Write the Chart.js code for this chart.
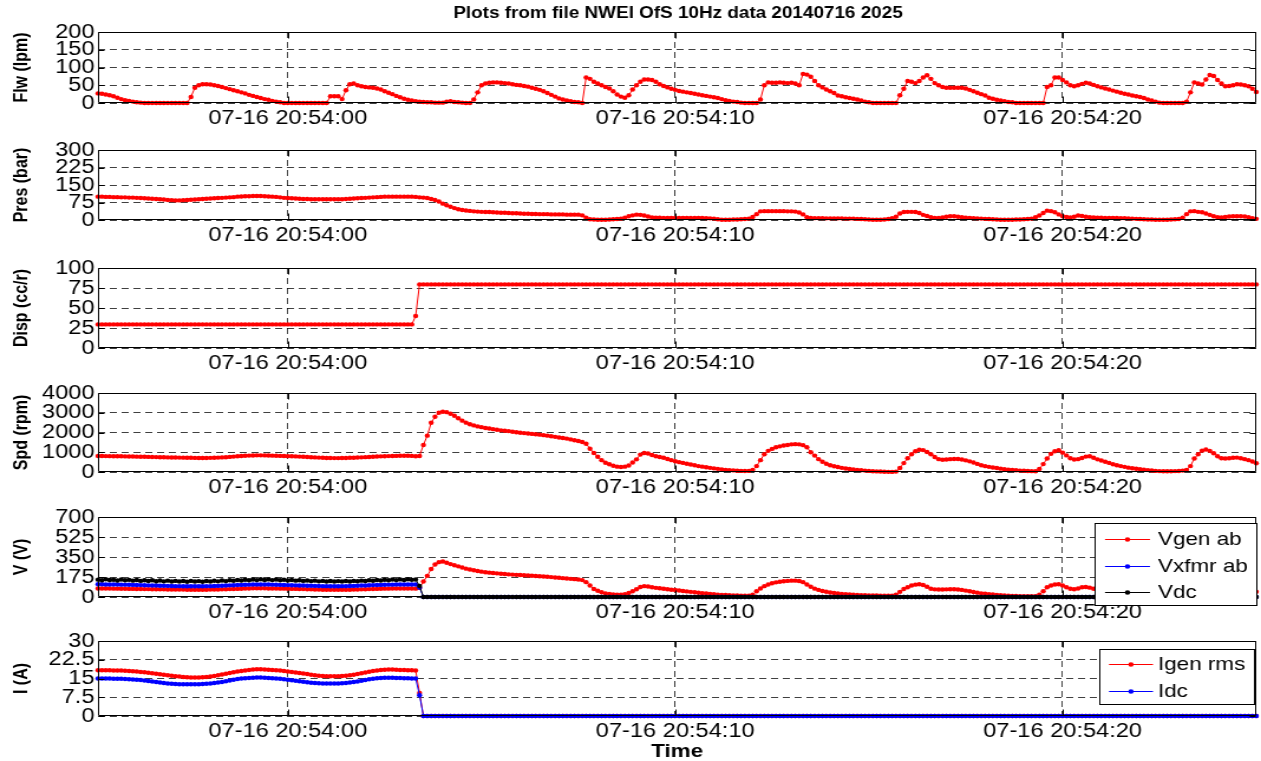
<!DOCTYPE html>
<html>
<head>
<meta charset="utf-8">
<title>Plots from file NWEI OfS 10Hz data 20140716 2025</title>
<script src="https://cdn.jsdelivr.net/npm/chart.js@4.4.1/dist/chart.umd.min.js"></script>
<style>
  html, body { margin: 0; padding: 0; background: #fff; }
  #fig { position: relative; width: 1261px; height: 761px; overflow: hidden; background: #fff; }
  #fig canvas { position: absolute; left: 0; transform-origin: 0 0; }
</style>
</head>
<body>
<div id="fig"></div>
<script>
// ---- Sampling: 10 Hz log, seconds relative to 07-16 20:54:00 ----
const T_START = -4.9;
const T_END = 25.0;
const SAMPLE_PERIOD = 0.1;

const TICK_SECONDS = [0, 10, 20];
const TICK_LABELS = ['07-16 20:54:00', '07-16 20:54:10', '07-16 20:54:20'];

const FIG_TITLE = 'Plots from file NWEI OfS 10Hz data 20140716 2025';
const X_TITLE = 'Time';

// ---- Logged channels (300 samples each) ----
const FLW = [
  27,26,24,22,19,15,11,8,6,4,
  2,1,0,0,0,0,0,0,0,0,
  0,0,0,0,17,43,50,53,53,52,
  50,48,45,42,39,36,33,30,27,23,
  20,17,14,11,9,6,4,2,0,0,
  0,0,0,0,0,0,0,0,0,0,
  19,19,19,11,36,53,55,50,47,45,
  44,43,41,38,33,29,25,20,16,12,
  9,7,5,4,3,2,2,1,1,1,
  4,5,3,2,1,0,0,10,30,50,
  55,57,58,58,57,56,55,53,51,50,
  48,46,43,40,37,33,28,23,18,13,
  10,7,5,3,2,0,72,68,60,55,
  50,45,41,33,24,18,15,22,38,50,
  60,66,66,65,60,53,48,44,40,37,
  34,32,30,28,26,24,22,20,18,16,
  14,11,8,6,4,3,1,0,0,0,
  0,10,50,58,57,57,58,57,56,57,
  55,50,82,80,74,62,50,44,38,33,
  28,21,19,16,14,12,10,7,4,2,
  0,0,0,0,0,0,0,22,40,62,
  60,56,62,72,78,68,56,50,45,43,
  43,43,43,43,41,37,33,29,25,21,
  15,12,9,7,5,3,2,0,0,0,
  0,0,0,0,0,45,50,72,72,65,
  58,50,47,50,54,57,55,51,47,44,
  41,38,35,32,29,26,24,21,19,17,
  14,10,7,4,1,0,0,0,0,0,
  0,4,30,58,55,52,66,79,76,65,
  55,47,48,50,53,52,50,47,40,31
];

const PRES = [
  100,100,99,99,98,98,97,97,96,96,
  95,94,93,92,91,90,89,88,86,85,
  84,84,85,86,87,88,89,90,91,92,
  93,94,95,96,97,98,100,101,102,102,
  103,103,103,102,101,100,99,97,95,94,
  93,92,91,90,90,89,89,89,89,89,
  89,89,89,89,90,91,92,93,94,95,
  96,97,98,99,100,100,100,100,100,100,
  100,100,99,97,96,94,90,86,79,70,
  63,57,51,46,43,41,39,37,36,35,
  34,34,33,32,31,31,30,29,29,28,
  27,27,26,26,25,25,25,24,24,24,
  24,23,23,23,23,20,10,3,2,1,
  1,1,2,3,4,6,10,16,20,23,
  22,19,15,11,10,10,9,9,9,9,
  9,9,9,9,9,9,9,8,7,6,
  3,1,1,1,2,2,3,4,6,13,
  25,37,38,38,38,38,38,38,37,37,
  36,32,24,12,9,8,8,8,7,7,
  7,7,7,6,6,6,5,4,3,2,
  1,1,1,2,4,8,14,28,34,35,
  35,34,30,22,17,12,9,9,11,14,
  16,16,14,12,10,9,8,7,6,5,
  4,3,2,1,1,1,1,2,2,3,
  4,6,12,19,30,40,38,33,24,16,
  13,11,14,19,17,14,12,11,10,10,
  9,9,9,9,8,8,7,6,5,4,
  3,2,2,1,1,1,1,2,3,4,
  10,25,37,38,35,33,28,22,16,12,
  11,13,15,16,16,16,15,12,8,5
];

const DISP = [
  29.5,29.5,29.5,29.5,29.5,29.5,29.5,29.5,29.5,29.5,
  29.5,29.5,29.5,29.5,29.5,29.5,29.5,29.5,29.5,29.5,
  29.5,29.5,29.5,29.5,29.5,29.5,29.5,29.5,29.5,29.5,
  29.5,29.5,29.5,29.5,29.5,29.5,29.5,29.5,29.5,29.5,
  29.5,29.5,29.5,29.5,29.5,29.5,29.5,29.5,29.5,29.5,
  29.5,29.5,29.5,29.5,29.5,29.5,29.5,29.5,29.5,29.5,
  29.5,29.5,29.5,29.5,29.5,29.5,29.5,29.5,29.5,29.5,
  29.5,29.5,29.5,29.5,29.5,29.5,29.5,29.5,29.5,29.5,
  29.5,29.5,40,79.5,79.5,79.5,79.5,79.5,79.5,79.5,
  79.5,79.5,79.5,79.5,79.5,79.5,79.5,79.5,79.5,79.5,
  79.5,79.5,79.5,79.5,79.5,79.5,79.5,79.5,79.5,79.5,
  79.5,79.5,79.5,79.5,79.5,79.5,79.5,79.5,79.5,79.5,
  79.5,79.5,79.5,79.5,79.5,79.5,79.5,79.5,79.5,79.5,
  79.5,79.5,79.5,79.5,79.5,79.5,79.5,79.5,79.5,79.5,
  79.5,79.5,79.5,79.5,79.5,79.5,79.5,79.5,79.5,79.5,
  79.5,79.5,79.5,79.5,79.5,79.5,79.5,79.5,79.5,79.5,
  79.5,79.5,79.5,79.5,79.5,79.5,79.5,79.5,79.5,79.5,
  79.5,79.5,79.5,79.5,79.5,79.5,79.5,79.5,79.5,79.5,
  79.5,79.5,79.5,79.5,79.5,79.5,79.5,79.5,79.5,79.5,
  79.5,79.5,79.5,79.5,79.5,79.5,79.5,79.5,79.5,79.5,
  79.5,79.5,79.5,79.5,79.5,79.5,79.5,79.5,79.5,79.5,
  79.5,79.5,79.5,79.5,79.5,79.5,79.5,79.5,79.5,79.5,
  79.5,79.5,79.5,79.5,79.5,79.5,79.5,79.5,79.5,79.5,
  79.5,79.5,79.5,79.5,79.5,79.5,79.5,79.5,79.5,79.5,
  79.5,79.5,79.5,79.5,79.5,79.5,79.5,79.5,79.5,79.5,
  79.5,79.5,79.5,79.5,79.5,79.5,79.5,79.5,79.5,79.5,
  79.5,79.5,79.5,79.5,79.5,79.5,79.5,79.5,79.5,79.5,
  79.5,79.5,79.5,79.5,79.5,79.5,79.5,79.5,79.5,79.5,
  79.5,79.5,79.5,79.5,79.5,79.5,79.5,79.5,79.5,79.5,
  79.5,79.5,79.5,79.5,79.5,79.5,79.5,79.5,79.5,79.5
];

const SPD = [
  810,808,806,803,800,797,794,790,786,782,
  778,774,770,765,760,755,750,745,740,737,
  733,730,726,722,718,715,712,710,712,716,
  722,730,740,750,765,780,795,808,820,830,
  838,842,843,840,835,828,820,814,808,803,
  797,790,780,770,760,750,740,730,720,712,
  706,703,704,707,712,718,724,732,742,752,
  762,772,782,792,800,806,812,816,820,823,
  824,815,795,810,1370,1840,2490,2800,3000,3050,
  3030,2950,2850,2720,2600,2500,2420,2360,2310,2270,
  2230,2200,2170,2140,2110,2090,2070,2040,2010,1990,
  1970,1950,1930,1910,1890,1865,1840,1810,1780,1750,
  1720,1690,1650,1610,1570,1520,1430,1180,960,770,
  600,470,390,320,270,250,270,330,480,640,
  880,960,940,860,800,760,720,660,600,545,
  500,460,420,380,340,300,270,240,210,185,
  160,130,110,95,80,65,55,50,55,110,
  300,600,900,1070,1170,1250,1300,1340,1370,1400,
  1410,1400,1360,1250,1000,830,650,520,420,340,
  290,250,210,180,150,125,100,85,70,55,
  40,30,22,15,8,5,20,200,450,700,
  900,1050,1130,1110,1010,900,760,650,620,630,
  650,662,660,630,590,540,480,410,340,295,
  260,230,200,170,140,120,100,85,70,60,
  50,42,35,150,400,680,920,1050,1100,980,
  840,700,630,650,710,780,800,720,640,580,
  520,460,390,340,300,260,220,190,165,140,
  115,95,75,55,45,40,40,40,45,50,
  70,110,300,680,900,1080,1136,1070,950,800,
  700,680,700,720,730,700,650,600,530,440
];

const VGEN = [
  75,75,74,74,73,73,72,72,71,71,
  70,70,69,69,68,68,67,67,66,66,
  65,65,65,64,64,64,64,64,64,65,
  65,66,67,68,69,70,71,72,74,75,
  76,76,76,76,75,75,74,73,73,72,
  71,71,70,69,68,67,66,65,64,64,
  63,63,63,63,64,64,65,66,67,68,
  69,70,71,72,73,73,74,74,75,75,
  75,74,73,80,135,185,245,285,305,310,
  300,288,278,268,258,248,240,234,228,222,
  217,213,210,207,204,201,198,196,194,192,
  190,188,186,184,182,180,177,174,171,168,
  165,162,159,156,153,148,130,100,70,55,
  42,32,27,23,21,21,25,35,50,68,
  88,95,92,85,80,76,72,68,64,61,
  57,53,49,45,41,37,33,30,27,24,
  21,19,17,15,14,13,12,12,12,20,
  50,75,95,110,120,128,134,138,141,143,
  143,140,130,110,90,73,62,53,46,40,
  35,30,27,24,22,20,18,16,15,14,
  13,13,12,12,12,12,20,45,70,85,
  100,108,112,105,90,72,67,66,66,67,
  68,68,66,62,56,50,44,38,32,28,
  25,22,19,16,14,12,10,9,8,7,
  6,6,6,20,50,85,100,110,112,100,
  85,72,68,75,85,88,82,72,65,60,
  55,50,45,40,36,32,28,24,20,17,
  14,12,10,8,7,6,6,6,6,7,
  10,15,40,75,95,110,115,110,98,85,
  75,72,74,76,75,72,66,60,53,46
];

const VXFMR = [
  112,111,110,110,109,109,108,108,107,106,
  105,104,103,102,101,100,99,98,97,96,
  95,95,94,94,94,94,94,94,95,95,
  96,97,99,100,102,103,105,106,107,108,
  109,110,110,109,109,108,107,106,105,104,
  103,102,101,100,99,98,97,96,95,95,
  94,94,94,95,95,96,97,98,100,101,
  103,104,105,106,107,108,108,109,109,110,
  110,110,109,82,0,0,0,0,0,0,
  0,0,0,0,0,0,0,0,0,0,
  0,0,0,0,0,0,0,0,0,0,
  0,0,0,0,0,0,0,0,0,0,
  0,0,0,0,0,0,0,0,0,0,
  0,0,0,0,0,0,0,0,0,0,
  0,0,0,0,0,0,0,0,0,0,
  0,0,0,0,0,0,0,0,0,0,
  0,0,0,0,0,0,0,0,0,0,
  0,0,0,0,0,0,0,0,0,0,
  0,0,0,0,0,0,0,0,0,0,
  0,0,0,0,0,0,0,0,0,0,
  0,0,0,0,0,0,0,0,0,0,
  0,0,0,0,0,0,0,0,0,0,
  0,0,0,0,0,0,0,0,0,0,
  0,0,0,0,0,0,0,0,0,0,
  0,0,0,0,0,0,0,0,0,0,
  0,0,0,0,0,0,0,0,0,0,
  0,0,0,0,0,0,0,0,0,0,
  0,0,0,0,0,0,0,0,0,0,
  0,0,0,0,0,0,0,0,0,0,
  0,0,0,0,0,0,0,0,0,0
];

const VDC = [
  152,146,155,149,151,144,153,147,150,143,
  149,141,147,140,146,138,144,137,143,136,
  141,135,140,134,141,135,139,134,140,136,
  142,137,144,139,146,142,149,144,151,147,
  153,148,155,149,154,148,153,146,151,145,
  149,143,147,141,145,139,143,137,141,136,
  140,135,139,135,140,136,141,138,143,140,
  146,142,149,145,151,147,153,148,154,149,
  155,150,153,97,0,0,0,0,0,0,
  0,0,0,0,0,0,0,0,0,0,
  0,0,0,0,0,0,0,0,0,0,
  0,0,0,0,0,0,0,0,0,0,
  0,0,0,0,0,0,0,0,0,0,
  0,0,0,0,0,0,0,0,0,0,
  0,0,0,0,0,0,0,0,0,0,
  0,0,0,0,0,0,0,0,0,0,
  0,0,0,0,0,0,0,0,0,0,
  0,0,0,0,0,0,0,0,0,0,
  0,0,0,0,0,0,0,0,0,0,
  0,0,0,0,0,0,0,0,0,0,
  0,0,0,0,0,0,0,0,0,0,
  0,0,0,0,0,0,0,0,0,0,
  0,0,0,0,0,0,0,0,0,0,
  0,0,0,0,0,0,0,0,0,0,
  0,0,0,0,0,0,0,0,0,0,
  0,0,0,0,0,0,0,0,0,0,
  0,0,0,0,0,0,0,0,0,0,
  0,0,0,0,0,0,0,0,0,0,
  0,0,0,0,0,0,0,0,0,0,
  0,0,0,0,0,0,0,0,0,0
];

const IGEN = [
  18.3,18.3,18.3,18.3,18.2,18.2,18.2,18.1,18.0,17.9,
  17.8,17.6,17.5,17.3,17.1,16.9,16.7,16.5,16.3,16.1,
  15.9,15.8,15.6,15.5,15.4,15.4,15.4,15.5,15.6,15.8,
  16.0,16.3,16.6,16.9,17.2,17.5,17.8,18.0,18.2,18.4,
  18.6,18.7,18.7,18.6,18.5,18.4,18.3,18.2,18.0,17.8,
  17.6,17.4,17.2,17.0,16.8,16.5,16.3,16.1,16.0,15.9,
  15.9,15.9,15.9,16.0,16.1,16.3,16.5,16.8,17.1,17.4,
  17.7,18.0,18.2,18.4,18.5,18.6,18.6,18.5,18.4,18.4,
  18.3,18.3,18.2,9.2,0,0,0,0,0,0,
  0,0,0,0,0,0,0,0,0,0,
  0,0,0,0,0,0,0,0,0,0,
  0,0,0,0,0,0,0,0,0,0,
  0,0,0,0,0,0,0,0,0,0,
  0,0,0,0,0,0,0,0,0,0,
  0,0,0,0,0,0,0,0,0,0,
  0,0,0,0,0,0,0,0,0,0,
  0,0,0,0,0,0,0,0,0,0,
  0,0,0,0,0,0,0,0,0,0,
  0,0,0,0,0,0,0,0,0,0,
  0,0,0,0,0,0,0,0,0,0,
  0,0,0,0,0,0,0,0,0,0,
  0,0,0,0,0,0,0,0,0,0,
  0,0,0,0,0,0,0,0,0,0,
  0,0,0,0,0,0,0,0,0,0,
  0,0,0,0,0,0,0,0,0,0,
  0,0,0,0,0,0,0,0,0,0,
  0,0,0,0,0,0,0,0,0,0,
  0,0,0,0,0,0,0,0,0,0,
  0,0,0,0,0,0,0,0,0,0,
  0,0,0,0,0,0,0,0,0,0
];

const IDC = [
  15.0,15.0,15.0,15.0,14.9,14.9,14.9,14.8,14.7,14.6,
  14.5,14.4,14.2,14.0,13.8,13.6,13.4,13.2,13.0,12.9,
  12.8,12.7,12.7,12.7,12.7,12.7,12.7,12.8,12.9,13.0,
  13.2,13.4,13.6,13.9,14.2,14.5,14.8,15.0,15.1,15.2,
  15.3,15.4,15.4,15.3,15.2,15.1,15.0,14.9,14.7,14.5,
  14.3,14.1,13.9,13.7,13.5,13.3,13.2,13.1,13.0,13.0,
  13.0,13.0,13.0,13.1,13.2,13.4,13.6,13.8,14.1,14.4,
  14.7,14.9,15.1,15.2,15.3,15.3,15.3,15.2,15.2,15.1,
  15.1,15.0,15.0,8.3,0,0,0,0,0,0,
  0,0,0,0,0,0,0,0,0,0,
  0,0,0,0,0,0,0,0,0,0,
  0,0,0,0,0,0,0,0,0,0,
  0,0,0,0,0,0,0,0,0,0,
  0,0,0,0,0,0,0,0,0,0,
  0,0,0,0,0,0,0,0,0,0,
  0,0,0,0,0,0,0,0,0,0,
  0,0,0,0,0,0,0,0,0,0,
  0,0,0,0,0,0,0,0,0,0,
  0,0,0,0,0,0,0,0,0,0,
  0,0,0,0,0,0,0,0,0,0,
  0,0,0,0,0,0,0,0,0,0,
  0,0,0,0,0,0,0,0,0,0,
  0,0,0,0,0,0,0,0,0,0,
  0,0,0,0,0,0,0,0,0,0,
  0,0,0,0,0,0,0,0,0,0,
  0,0,0,0,0,0,0,0,0,0,
  0,0,0,0,0,0,0,0,0,0,
  0,0,0,0,0,0,0,0,0,0,
  0,0,0,0,0,0,0,0,0,0,
  0,0,0,0,0,0,0,0,0,0
];

// ---- Styling / layout ----
// The figure is drawn on a narrower canvas and widened horizontally by SX,
// which gives the wide, squat lettering of the exported figure.
const FONT = '"Liberation Sans", Arial, Helvetica, sans-serif';
const RED = '#ff0000', BLUE = '#0000ff', BLACK = '#000000';
const GRID_COLOR = 'rgba(0,0,0,0.75)';
const FIG_W = 1261, FIG_H = 761;
const CANVAS_W = 1068;
const SX = FIG_W / CANVAS_W;
const AXIS_LEFT = 98, AXIS_RIGHT = 1258;           // page pixels
const TICK_FONT = 20, YTITLE_FONT = 16, LEGEND_FONT = 19, TITLE_FONT = 16, XTITLE_FONT = 19;

const cx = v => v / SX;                              // page x -> canvas x

Chart.defaults.font.family = FONT;
Chart.defaults.color = '#000';

// each panel: y-axis, vertical placement, series drawn into it
const PANELS = [
  { ytitle: 'Flw (lpm)',   top: 32,  bottom: 103, max: 200,  step: 50,
    series: [{ label: 'Flw', data: FLW, color: RED }] },
  { ytitle: 'Pres (bar)',  top: 150, bottom: 220, max: 300,  step: 75,
    series: [{ label: 'Pres', data: PRES, color: RED }] },
  { ytitle: 'Disp (cc/r)', top: 268, bottom: 348, max: 100,  step: 25,
    series: [{ label: 'Disp', data: DISP, color: RED }] },
  { ytitle: 'Spd (rpm)',   top: 393, bottom: 472, max: 4000, step: 1000,
    series: [{ label: 'Spd', data: SPD, color: RED }] },
  { ytitle: 'V (V)',       top: 517, bottom: 597, max: 700,  step: 175,
    series: [
      { label: 'Vgen ab',  data: VGEN,  color: RED,   order: 3 },
      { label: 'Vxfmr ab', data: VXFMR, color: BLUE,  order: 2 },
      { label: 'Vdc',      data: VDC,   color: BLACK, order: 1 }],
    legend: { x1: 1094, y1: 523, x2: 1257, y2: 606, rows: [539, 566, 592],
              lx1: 1105, lx2: 1150, tx: 1158 } },
  { ytitle: 'I (A)',       top: 641, bottom: 716, max: 30,   step: 7.5,
    series: [
      { label: 'Igen rms', data: IGEN, color: RED,  order: 2 },
      { label: 'Idc',      data: IDC,  color: BLUE, order: 1 }],
    legend: { x1: 1099, y1: 649, x2: 1255, y2: 705, rows: [664, 691],
              lx1: 1109, lx2: 1153, tx: 1158 } }
];

function timeAxisPoints(values) {
  return values.map((v, i) => ({ x: T_START + i * SAMPLE_PERIOD, y: v }));
}

// box around the axes, inward tick marks on all four sides, optional legend and figure title
const framePlugin = {
  id: 'frame',
  afterDraw(chart, args, opts) {
    const { ctx, chartArea: a, scales: { x, y } } = chart;
    ctx.save();
    ctx.setLineDash([]);
    ctx.strokeStyle = '#000';
    ctx.lineWidth = 1;
    ctx.beginPath();
    const TLY = 5, TLX = 6;
    const L = Math.round(a.left) + 0.5, R = Math.round(a.right) - 0.5;
    const T = Math.round(a.top) + 0.5, B = Math.round(a.bottom) - 0.5;
    y.ticks.forEach(t => {
      const py = Math.round(y.getPixelForValue(t.value)) + 0.5;
      ctx.moveTo(L, py); ctx.lineTo(L + TLY, py);
      ctx.moveTo(R, py); ctx.lineTo(R - TLY, py);
    });
    x.ticks.forEach(t => {
      const px = Math.round(x.getPixelForValue(t.value)) + 0.5;
      ctx.moveTo(px, B); ctx.lineTo(px, B - TLX);
      ctx.moveTo(px, T); ctx.lineTo(px, T + TLX);
    });
    ctx.rect(L, T, R - L, B - T);
    ctx.stroke();

    const lg = opts.legend;
    if (lg) {
      const off = opts.offsetY;
      const x1 = Math.round(cx(lg.x1)) + 0.5, x2 = Math.round(cx(lg.x2)) - 0.5;
      const y1 = lg.y1 - off + 0.5, y2 = lg.y2 - off - 0.5;
      ctx.fillStyle = '#fff';
      ctx.fillRect(x1, y1, x2 - x1, y2 - y1);
      ctx.strokeRect(x1, y1, x2 - x1, y2 - y1);
      ctx.font = `${LEGEND_FONT}px ${FONT}`;
      ctx.textBaseline = 'middle';
      ctx.textAlign = 'left';
      chart.data.datasets.forEach((ds, k) => {
        const ry = lg.rows[k] - off + 0.5;
        ctx.strokeStyle = ds.borderColor;
        ctx.beginPath();
        ctx.moveTo(cx(lg.lx1), ry); ctx.lineTo(cx(lg.lx2), ry);
        ctx.stroke();
        ctx.fillStyle = ds.borderColor;
        ctx.beginPath();
        ctx.arc(cx((lg.lx1 + lg.lx2) / 2), ry, 2.3, 0, Math.PI * 2);
        ctx.fill();
        ctx.fillStyle = '#000';
        ctx.fillText(ds.label, cx(lg.tx), ry);
      });
    }
    if (opts.figTitle) {
      ctx.fillStyle = '#000';
      ctx.font = `bold ${TITLE_FONT}px ${FONT}`;
      ctx.textAlign = 'center';
      ctx.textBaseline = 'middle';
      ctx.fillText(opts.figTitle, cx((AXIS_LEFT + AXIS_RIGHT) / 2), 14);
    }
    ctx.restore();
  }
};

const fig = document.getElementById('fig');

PANELS.forEach((p, k) => {
  const last = k === PANELS.length - 1;
  const cTop = k === 0 ? 0 : p.top - 24;
  const cBottom = last ? FIG_H : p.bottom + 40;
  const cH = cBottom - cTop;
  const padTop = p.top - cTop;
  const xAxisH = cBottom - p.bottom;

  const canvas = document.createElement('canvas');
  canvas.width = CANVAS_W;
  canvas.height = cH;
  canvas.style.top = cTop + 'px';
  canvas.style.transform = `scaleX(${SX})`;
  fig.appendChild(canvas);

  const datasets = p.series.map(s => ({
    label: s.label,
    data: timeAxisPoints(s.data),
    borderColor: s.color,
    backgroundColor: s.color,
    pointBackgroundColor: s.color,
    pointBorderWidth: 0,
    pointRadius: 2.2,
    borderWidth: 1,
    tension: 0,
    clip: false,
    order: s.order || 0
  }));

  new Chart(canvas, {
    type: 'line',
    data: { datasets },
    plugins: [framePlugin],
    options: {
      responsive: false,
      devicePixelRatio: 1,
      animation: false,
      events: [],
      layout: { padding: { top: padTop, right: CANVAS_W - cx(AXIS_RIGHT), left: 0, bottom: 0 } },
      plugins: {
        legend: { display: false },
        tooltip: { enabled: false },
        title: { display: false },
        frame: { legend: p.legend || null, offsetY: cTop, figTitle: k === 0 ? FIG_TITLE : null }
      },
      scales: {
        x: {
          type: 'linear',
          min: T_START,
          max: T_END,
          afterBuildTicks: s => { s.ticks = TICK_SECONDS.map(v => ({ value: v })); },
          afterFit: s => { s.height = xAxisH; },
          ticks: {
            autoSkip: false, maxRotation: 0, minRotation: 0, padding: 3,
            font: { size: TICK_FONT }, color: '#000',
            callback: v => TICK_LABELS[TICK_SECONDS.indexOf(v)]
          },
          grid: { color: GRID_COLOR, lineWidth: 1, drawTicks: false },
          border: { display: false, dash: [6, 4] },
          title: {
            display: last, text: X_TITLE, color: '#000',
            font: { size: XTITLE_FONT, weight: 'bold', lineHeight: 0.95 }, padding: 0
          }
        },
        y: {
          min: 0,
          max: p.max,
          afterFit: s => { s.width = cx(AXIS_LEFT); },
          ticks: {
            stepSize: p.step, autoSkip: false, padding: 3,
            font: { size: TICK_FONT }, color: '#000',
            callback: v => String(v)
          },
          grid: { color: GRID_COLOR, lineWidth: 1, drawTicks: false },
          border: { display: false, dash: [6, 4] },
          title: {
            display: true, text: p.ytitle, color: '#000',
            font: { size: YTITLE_FONT, weight: 'bold' }, padding: { top: 9, bottom: 0 }
          }
        }
      }
    }
  });
});
</script>
</body>
</html>
